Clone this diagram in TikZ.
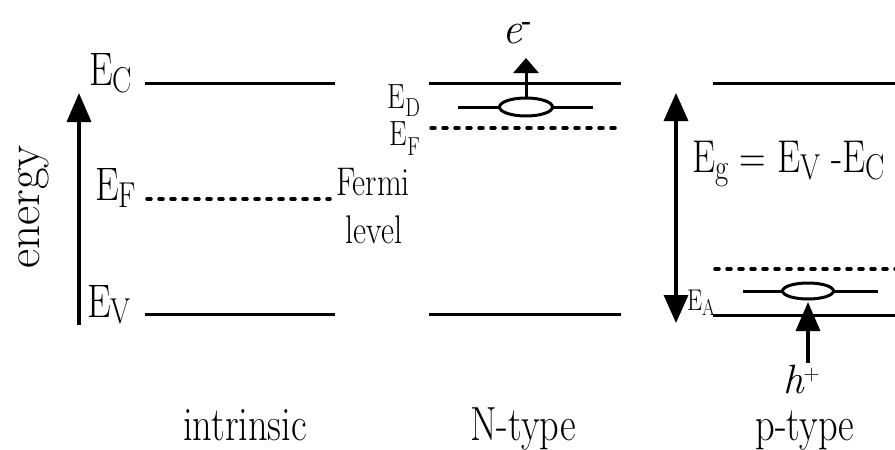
\documentclass[tikz,border=0pt]{standalone}
\usepackage{graphicx}
\usetikzlibrary{arrows.meta,shapes.geometric}
\newcommand\fsz[1]{\fontsize{#1}{#1}\selectfont}
\newcommand\cond[1]{\scalebox{0.8}[1]{#1}}
\newcommand\Esub[4]{\cond{{\fsz{#1}E}\raisebox{-#3pt}{\fsz{#2}#4}}}
\begin{document}
\begin{tikzpicture}[x=1pt,y=-1pt,
  level/.style={line width=3pt},
  fermi/.style={line width=3.5pt, line cap=round, dash pattern=on 4pt off 8pt},
  lbl/.style={inner sep=0pt, outer sep=0pt},
  bigarrow/.style={line width=3.5pt, -{Triangle[length=29pt,width=24pt]}},
  impurity/.style={draw, ellipse, line width=3pt, fill=white, inner sep=0pt}]
\useasboundingbox (0,0) rectangle (895,450);

% ---------- intrinsic ----------
\coordinate (iC1) at (145,83);  \coordinate (iC2) at (335,83);
\coordinate (iF1) at (147,199); \coordinate (iF2) at (330,199);
\coordinate (iV1) at (145,314); \coordinate (iV2) at (335,314);
\draw[level] (iC1) -- (iC2);
\draw[fermi] (iF1) -- (iF2);
\draw[level] (iV1) -- (iV2);

\coordinate (ea0) at (79,325); \coordinate (ea1) at (79,93);
\draw[bigarrow] (ea0) -- (ea1);
\node[lbl, rotate=90, anchor=base] (energy) at (39,207) {\fsz{47}energy};

\node[lbl, anchor=base west] (lEC) at (89,85) {\Esub{47}{36}{7}{C}};
\node[lbl, anchor=base west] (lEF) at (95,200) {\Esub{47}{36}{7}{F}};
\node[lbl, anchor=base west] (lEV) at (87,317) {\Esub{47}{36}{6}{V}};

\node[lbl, anchor=base] (fermi) at (373,195) {\cond{\fsz{40}Fermi}};
\node[lbl, anchor=base] (flevel) at (374,243) {\cond{\fsz{40}level}};

\node[lbl, anchor=base] (tintr) at (245,440) {\cond{\fsz{48}intrinsic}};

% ---------- N-type ----------
\coordinate (nC1) at (429,83);  \coordinate (nC2) at (621,83);
\coordinate (nD1) at (458,107); \coordinate (nD2) at (593,107);
\coordinate (nF1) at (431,128); \coordinate (nF2) at (615,128);
\coordinate (nV1) at (429,314); \coordinate (nV2) at (621,314);
\draw[level] (nC1) -- (nC2);
\draw[level] (nD1) -- (nD2);
\draw[fermi] (nF1) -- (nF2);
\draw[level] (nV1) -- (nV2);
\node[impurity, minimum width=53pt, minimum height=18pt] (don) at (526,107) {};
\coordinate (eup) at (526,58);
\draw[line width=3pt, -{Triangle[length=15pt,width=25pt]}] (don.north) -- (eup);
\node[lbl, anchor=base west] (elec) at (502,43)
  {{\itshape\fsz{44}e}{\bfseries\fsz{26}\raisebox{14pt}{-}}};

\node[lbl, anchor=base east] (lED) at (420,108) {\Esub{35}{26}{8}{D}};
\node[lbl, anchor=base east] (lEF2) at (420,145) {\Esub{35}{26}{10}{F}};

\node[lbl, anchor=base] (tn) at (523,440) {\cond{\fsz{48}N-type}};

% ---------- p-type ----------
\coordinate (pC1) at (713,83);  \coordinate (pC2) at (896,83);
\coordinate (pF1) at (715,269); \coordinate (pF2) at (896,269);
\coordinate (pA1) at (743,291); \coordinate (pA2) at (878,291);
\coordinate (pV1) at (713,315); \coordinate (pV2) at (896,315);
\draw[level] (pC1) -- (pC2);
\draw[fermi] (pF1) -- (pF2);
\draw[level] (pA1) -- (pA2);
\draw[level] (pV1) -- (pV2);
\node[impurity, minimum width=51pt, minimum height=16pt] (acc) at (808,291) {};

\coordinate (da0) at (676,93); \coordinate (da1) at (676,323);
\draw[line width=3.5pt, {Triangle[length=28pt,width=24pt]}-{Triangle[length=28pt,width=24pt]}] (da0) -- (da1);

\coordinate (hbot) at (808,363); \coordinate (htip) at (808,302);
\draw[bigarrow] (hbot) -- (htip);
\node[lbl, anchor=base west] (hole) at (783,393)
  {{\itshape\fsz{41}h}{\fsz{22}\raisebox{13pt}{+}}};

\node[lbl, anchor=base west] (lEA) at (687,310) {\Esub{30}{23}{5}{A}};
\node[lbl, anchor=base west] (eg) at (692,172)
  {\cond{\fsz{46}E\raisebox{-7pt}{\fsz{36}g} = E\raisebox{-7pt}{\fsz{36}V} -E\raisebox{-7pt}{\fsz{36}C}}};

\node[lbl, anchor=base] (tp) at (805,440) {\cond{\fsz{48}p-type}};
\end{tikzpicture}
\end{document}
